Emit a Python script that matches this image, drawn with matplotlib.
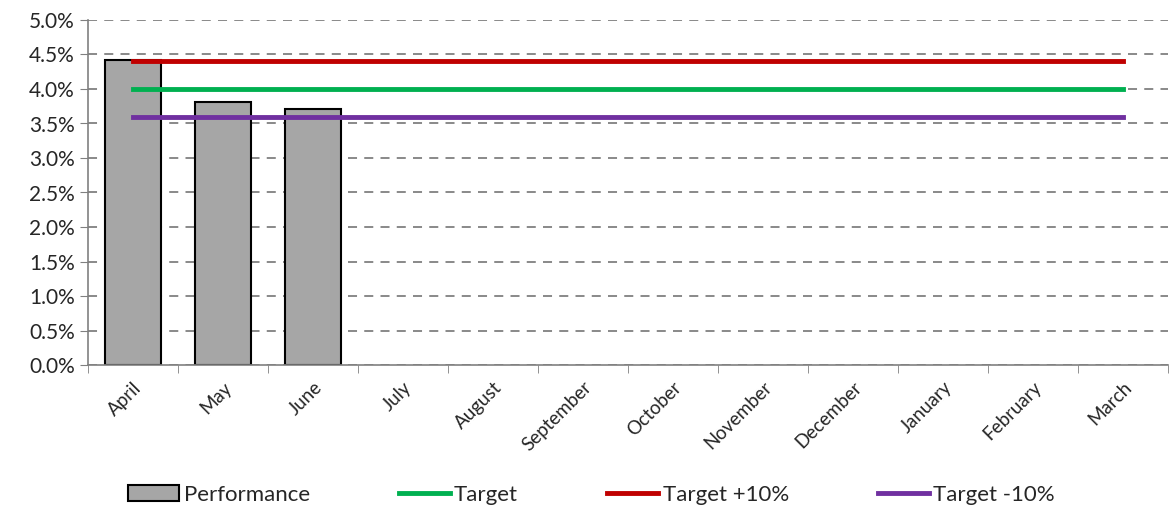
import matplotlib
matplotlib.use("Agg")
import matplotlib.pyplot as plt
import numpy as np
from matplotlib.ticker import FuncFormatter, MultipleLocator

months = ["April", "May", "June", "July", "August", "September", "October",
          "November", "December", "January", "February", "March"]
performance = [4.42, 3.81, 3.71]
target = [4.0] * 12
target_plus = [4.4] * 12
target_minus = [3.6] * 12

plt.rcParams['font.family'] = ['Lato', 'DejaVu Sans']

fig = plt.figure(figsize=(11.7, 5.11), dpi=100)
ax = fig.add_axes([88/1170, 1 - 365/511, (1168-88)/1170, (365-20)/511])

x = np.arange(len(months))
h_bar = ax.bar(x[:len(performance)], performance, width=0.63, color="#a6a6a6",
               edgecolor="black", linewidth=1.5, label="Performance", zorder=2)
h_t, = ax.plot(x, target, color="#00b050", lw=3.5, label="Target", zorder=3)
h_p, = ax.plot(x, target_plus, color="#c00000", lw=3.5, label="Target +10%", zorder=3)
h_m, = ax.plot(x, target_minus, color="#7030a0", lw=3.5, label="Target -10%", zorder=3)

ax.set_xlim(-0.5, len(months) - 0.5)
ax.set_ylim(0, 5.0)
ax.yaxis.set_major_locator(MultipleLocator(0.5))
ax.yaxis.set_major_formatter(FuncFormatter(lambda v, p: f"{v:.1f}%"))
ax.yaxis.grid(True, linestyle=(0, (5, 4)), color="#808080", lw=1.3, zorder=0)
ax.set_axisbelow(True)

ax.set_xticks(x)
ax.set_xticklabels(months, rotation=45, ha="right", rotation_mode="anchor", fontsize=13.5)
ax.set_xticks(np.arange(-0.5, len(months)), minor=True)
ax.tick_params(axis="x", which="major", length=0, pad=10)
ax.tick_params(axis="x", which="minor", length=6, color="#808080")
ax.tick_params(axis="y", length=6, color="#808080", labelsize=15, labelcolor="#262626")
ax.tick_params(axis="x", labelcolor="#262626")

for s in ["top", "right"]:
    ax.spines[s].set_visible(False)
for s in ["left", "bottom"]:
    ax.spines[s].set_color("#808080")
    ax.spines[s].set_linewidth(1.2)

leg = fig.legend([h_bar, h_t, h_p, h_m], ["Performance", "Target", "Target +10%", "Target -10%"],
                 loc="center left", bbox_to_anchor=(108/1170, 1 - 495/511), ncol=4, frameon=False,
                 fontsize=16, handlelength=2.3, handletextpad=0.2, columnspacing=4.0,
                 labelcolor="#262626")
fig.savefig("out.png", dpi=100)
